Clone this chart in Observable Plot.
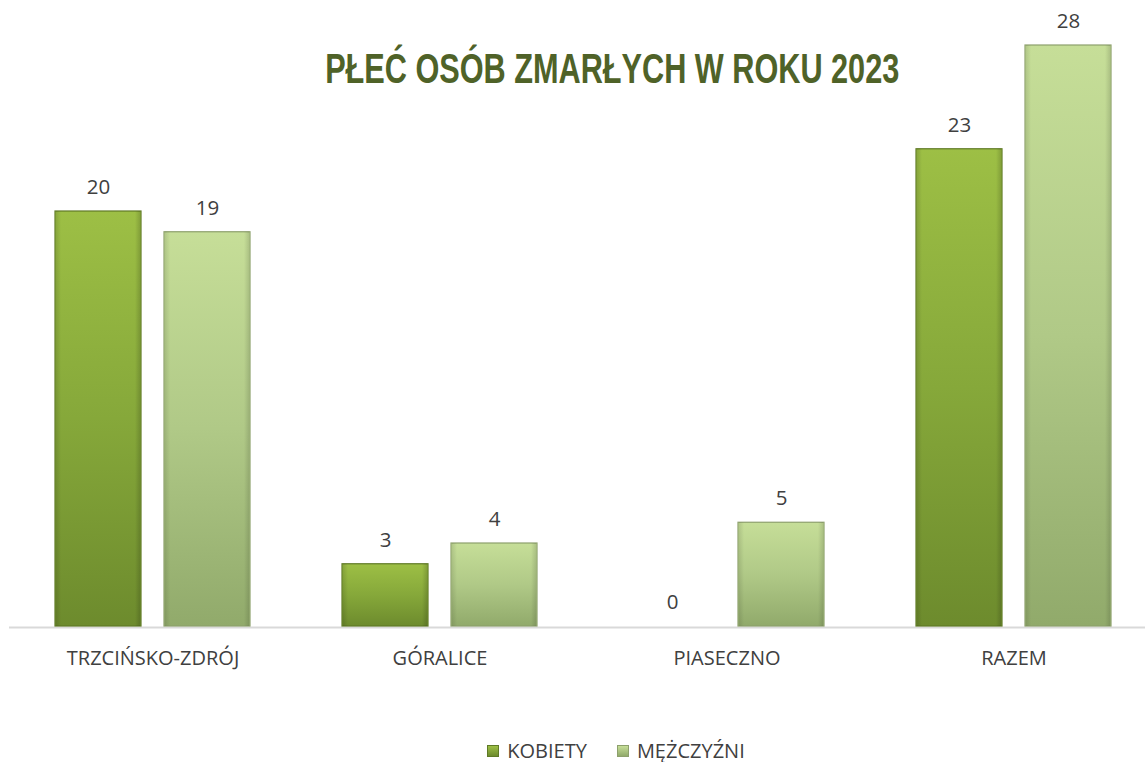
<!DOCTYPE html>
<html>
<head>
<meta charset="utf-8">
<script src="https://cdn.jsdelivr.net/npm/d3@7"></script>
<script src="https://cdn.jsdelivr.net/npm/@observablehq/plot@0.6"></script>
<style>
  html, body { margin: 0; padding: 0; background: #fff; }
  #wrap { position: relative; width: 1145px; height: 762px; font-family: "Open Sans", sans-serif; }
  #title { position: absolute; left: 0; width: 1224px; top: 45px; text-align: center; pointer-events: none; }
  #title span { display: inline-block; transform: scaleX(0.73); transform-origin: center;
    font-family: "Liberation Sans Narrow", "Arial Narrow", "Liberation Sans", Arial, sans-serif;
    font-weight: bold; font-size: 42px; color: #4f6228; white-space: nowrap; }
  #legend { position: absolute; top: 737px; left: 0; width: 1145px; padding-left: 87px; box-sizing: border-box;
    display: flex; justify-content: center; gap: 30px; font-size: 20px; color: #404040; line-height: 28px; }
  #legend span.item { display: inline-flex; align-items: center; }
  #legend span.sw { display: inline-block; width: 12px; height: 12px; margin-right: 8px; }
</style>
</head>
<body>
<div id="wrap">
  <div id="chart"></div>
  <div id="title"><span>PŁEĆ OSÓB ZMARŁYCH W ROKU 2023</span></div>
  <div id="legend"></div>
</div>
<script>
const categories = ["TRZCIŃSKO-ZDRÓJ", "GÓRALICE", "PIASECZNO", "RAZEM"];
const series = ["KOBIETY", "MĘŻCZYŹNI"];
const kobiety = [20, 3, 0, 23];
const mezczyzni = [19, 4, 5, 28];

const gradIds = {"KOBIETY": "gK", "MĘŻCZYŹNI": "gM"};
const data = [];
categories.forEach((c, i) => {
  data.push({category: c, sex: "KOBIETY", value: kobiety[i]});
  data.push({category: c, sex: "MĘŻCZYŹNI", value: mezczyzni[i]});
});

const chart = Plot.plot({
  width: 1145,
  height: 735,
  marginLeft: 8,
  marginRight: 0,
  marginTop: 0,
  marginBottom: 0,
  style: {fontFamily: "'Open Sans', sans-serif", background: "#fff"},
  fx: {domain: categories, range: [8.5, 1157], padding: 0, axis: null},
  x: {domain: series, paddingInner: 0.21, paddingOuter: 0.415, axis: null},
  y: {domain: [0, 28], range: [626, 45], axis: null},
  marks: [
    Plot.ruleY([0], {stroke: "#d9d9d9", strokeWidth: 2, dy: 1}),
    Plot.barY(data, {
      fx: "category", x: "sex", y: "value",
      fill: d => `url(#${gradIds[d.sex]})`,
      stroke: d => d.sex === "KOBIETY" ? "#5f7a26" : "#8da06c",
      strokeWidth: 1.2,
      filter: d => d.value > 0
    }),
    Plot.barY(data, {
      fx: "category", x: "sex", y: "value",
      fill: d => `url(#${gradIds[d.sex]}T)`,
      filter: d => d.value > 0,
      insetLeft: 1, insetRight: 1
    }),
    Plot.text(data, {
      fx: "category", x: "sex", y: "value", text: d => String(d.value),
      dy: -24, fontSize: 20.5, fill: "#404040"
    }),
    Plot.text(categories, {
      fx: d => d, y: () => 0, text: d => d, dy: 32, fontSize: 20, fill: "#404040"
    })
  ]
});

const svg = d3.select(chart);
svg.insert("defs", ":first-child").html(`
  <linearGradient id="gK" x1="0" y1="0" x2="0" y2="1">
    <stop offset="0" stop-color="#9dbf45"/>
    <stop offset="0.5" stop-color="#86a83a"/>
    <stop offset="1" stop-color="#6d8b2d"/>
  </linearGradient>
  <linearGradient id="gM" x1="0" y1="0" x2="0" y2="1">
    <stop offset="0" stop-color="#c6de98"/>
    <stop offset="0.5" stop-color="#b0c987"/>
    <stop offset="1" stop-color="#91aa6b"/>
  </linearGradient>
  <linearGradient id="gKT" x1="0" y1="0" x2="1" y2="0">
    <stop offset="0" stop-color="#000" stop-opacity="0.12"/>
    <stop offset="0.06" stop-color="#000" stop-opacity="0"/>
    <stop offset="0.94" stop-color="#000" stop-opacity="0"/>
    <stop offset="1" stop-color="#000" stop-opacity="0.15"/>
  </linearGradient>
  <linearGradient id="gMT" x1="0" y1="0" x2="1" y2="0">
    <stop offset="0" stop-color="#000" stop-opacity="0.1"/>
    <stop offset="0.06" stop-color="#000" stop-opacity="0"/>
    <stop offset="0.94" stop-color="#000" stop-opacity="0"/>
    <stop offset="1" stop-color="#000" stop-opacity="0.12"/>
  </linearGradient>
`);
document.getElementById("chart").appendChild(chart);

const legend = document.getElementById("legend");
const swatchCss = {"KOBIETY": "linear-gradient(#9dbf45,#6d8b2d)", "MĘŻCZYŹNI": "linear-gradient(#c6de98,#91aa6b)"};
const swatchBorder = {"KOBIETY": "#5f7a26", "MĘŻCZYŹNI": "#8da06c"};
series.forEach(s => {
  const item = document.createElement("span");
  item.className = "item";
  const sw = document.createElement("span");
  sw.className = "sw";
  sw.style.background = swatchCss[s];
  sw.style.border = "1px solid " + swatchBorder[s];
  sw.style.boxSizing = "border-box";
  item.appendChild(sw);
  item.appendChild(document.createTextNode(s));
  legend.appendChild(item);
});
</script>
</body>
</html>
